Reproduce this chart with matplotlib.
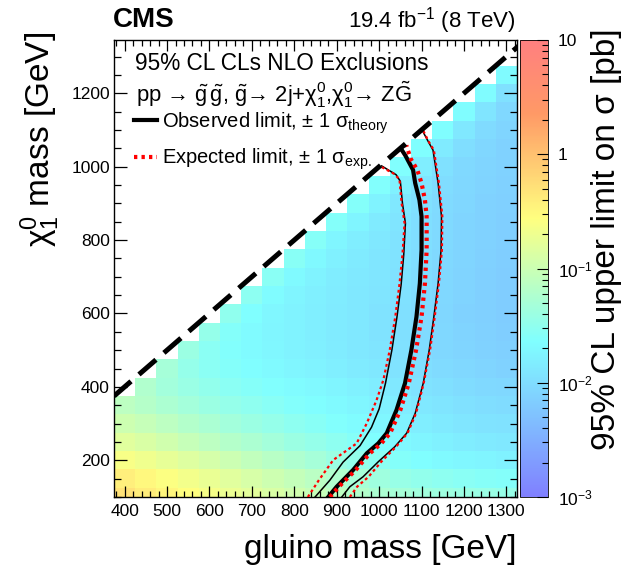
import numpy as np
import matplotlib
matplotlib.use('Agg')
import matplotlib.pyplot as plt
from matplotlib.colors import LinearSegmentedColormap, LogNorm
from matplotlib.ticker import MultipleLocator, LogLocator, NullFormatter
from matplotlib.lines import Line2D

plt.rcParams['font.family'] = ['Liberation Sans', 'DejaVu Sans']
plt.rcParams['mathtext.fontset'] = 'custom'
plt.rcParams['mathtext.rm'] = 'Liberation Sans'
plt.rcParams['mathtext.it'] = 'Liberation Sans:italic'
plt.rcParams['mathtext.bf'] = 'Liberation Sans:bold'
plt.rcParams['mathtext.sf'] = 'Liberation Sans'

# ---------------- data ----------------
gluino_mass = [400, 450, 500, 550, 600, 650, 700, 750, 800, 850,
               900, 950, 1000, 1050, 1100, 1150, 1200, 1250, 1300]
chi_mass = [100, 150, 200, 250, 300, 350, 400, 450, 500, 550, 600, 650,
            700, 750, 800, 850, 900, 950, 1000, 1050, 1100, 1150, 1200, 1250]
# log10 of the 95% CL upper limit [pb]; each row ends at gluino mass 1300
log_limit_rows = [
    [-0.30, -0.40, -0.48, -0.56, -0.64, -0.72, -0.80, -0.88, -0.96, -1.04, -1.12, -1.20, -1.26, -1.31, -1.35, -1.38, -1.40, -1.42, -1.44],
    [-0.42, -0.50, -0.58, -0.66, -0.74, -0.82, -0.90, -0.98, -1.06, -1.14, -1.22, -1.30, -1.37, -1.43, -1.48, -1.52, -1.55, -1.58, -1.60],
    [-0.62, -0.68, -0.76, -0.84, -0.92, -1.00, -1.08, -1.16, -1.24, -1.32, -1.40, -1.47, -1.54, -1.60, -1.65, -1.69, -1.72, -1.75, -1.78],
    [-0.82, -0.88, -0.96, -1.04, -1.12, -1.19, -1.26, -1.33, -1.40, -1.46, -1.52, -1.58, -1.64, -1.70, -1.75, -1.79, -1.83, -1.86, -1.88],
    [-0.98, -1.04, -1.12, -1.20, -1.27, -1.34, -1.40, -1.46, -1.52, -1.57, -1.62, -1.67, -1.72, -1.77, -1.82, -1.86, -1.90, -1.93, -1.95],
    [-1.12, -1.18, -1.26, -1.33, -1.40, -1.46, -1.51, -1.56, -1.61, -1.65, -1.69, -1.73, -1.78, -1.83, -1.88, -1.92, -1.96, -1.99, -2.01],
    [-1.22, -1.34, -1.42, -1.48, -1.54, -1.59, -1.63, -1.67, -1.71, -1.75, -1.79, -1.83, -1.88, -1.93, -1.97, -2.01, -2.04, -2.06],
    [-1.32, -1.46, -1.54, -1.60, -1.65, -1.69, -1.73, -1.77, -1.81, -1.85, -1.89, -1.93, -1.98, -2.02, -2.06, -2.09, -2.11],
    [-1.40, -1.54, -1.62, -1.68, -1.72, -1.76, -1.80, -1.84, -1.88, -1.92, -1.96, -2.01, -2.05, -2.09, -2.12, -2.14],
    [-1.46, -1.60, -1.68, -1.73, -1.77, -1.81, -1.85, -1.89, -1.93, -1.97, -2.02, -2.06, -2.10, -2.13, -2.16],
    [-1.50, -1.64, -1.72, -1.77, -1.81, -1.85, -1.89, -1.93, -1.97, -2.02, -2.07, -2.11, -2.14, -2.17],
    [-1.53, -1.67, -1.75, -1.80, -1.84, -1.88, -1.92, -1.96, -2.01, -2.06, -2.10, -2.14, -2.17],
    [-1.55, -1.69, -1.77, -1.83, -1.87, -1.91, -1.95, -2.00, -2.05, -2.10, -2.14, -2.17],
    [-1.57, -1.71, -1.79, -1.85, -1.90, -1.94, -1.99, -2.04, -2.09, -2.13, -2.16],
    [-1.58, -1.73, -1.82, -1.88, -1.93, -1.98, -2.03, -2.08, -2.12, -2.15],
    [-1.60, -1.75, -1.85, -1.92, -1.98, -2.03, -2.08, -2.12, -2.15],
    [-1.60, -1.77, -1.88, -1.96, -2.02, -2.07, -2.11, -2.14],
    [-1.62, -1.79, -1.92, -2.00, -2.06, -2.10, -2.13],
    [-1.63, -1.82, -1.96, -2.04, -2.09, -2.12],
    [-1.64, -1.85, -1.99, -2.07, -2.11],
    [-1.65, -1.88, -2.02, -2.09],
    [-1.66, -1.92, -2.05],
    [-1.67, -1.96],
    [-1.68],
]

kin_limit = [375, 1345]

obs_x = [880, 900, 939, 971, 998, 1018, 1041, 1061, 1076, 1088, 1096, 1100, 1100, 1095, 1085, 1080, 1062, 1052]
obs_y = [100, 128, 174, 219, 246, 274, 337, 410, 500, 591, 682, 773, 864, 909, 955, 991, 1030, 1048]
obs_m_x = [849, 884, 915, 955, 982, 1000, 1015, 1030, 1042, 1052, 1058, 1062, 1055, 1050, 1040, 1006]
obs_m_y = [100, 146, 195, 240, 290, 340, 410, 500, 590, 680, 760, 846, 900, 960, 978, 1002]
obs_p_x = [912, 931, 962, 998, 1037, 1065, 1085, 1104, 1118, 1129, 1139, 1146, 1147, 1139, 1127, 1115, 1102]
obs_p_y = [100, 128, 155, 196, 237, 274, 328, 410, 500, 591, 682, 773, 864, 955, 1045, 1070, 1098]

exp_x = [884, 905, 945, 978, 1005, 1026, 1050, 1070, 1087, 1100, 1108, 1112, 1112, 1108, 1100, 1090, 1075, 1064]
exp_y = [100, 128, 174, 219, 246, 274, 337, 410, 500, 591, 682, 773, 864, 909, 955, 991, 1020, 1058]
exp_m_x = [832, 858, 892, 947, 971, 994, 1010, 1025, 1038, 1048, 1055, 1060, 1053, 1048, 1036, 1004]
exp_m_y = [100, 146, 201, 246, 301, 364, 419, 500, 590, 680, 760, 846, 900, 965, 980, 1000]
exp_p_x = [931, 948, 975, 1005, 1040, 1067, 1087, 1105, 1120, 1131, 1141, 1148, 1149, 1141, 1129, 1116, 1104]
exp_p_y = [100, 128, 155, 196, 237, 274, 328, 410, 500, 591, 682, 773, 864, 955, 1045, 1070, 1098]

cbar_ticks = [1e-3, 1e-2, 1e-1, 1, 10]
cbar_labels = ['10$^{-3}$', '10$^{-2}$', '10$^{-1}$', '1', '10']
x_ticks = [400, 500, 600, 700, 800, 900, 1000, 1100, 1200, 1300]
y_ticks = [200, 400, 600, 800, 1000, 1200]

# ---------------- build grid ----------------
ncol = len(gluino_mass)
Z = np.full((len(chi_mass), ncol), np.nan)
for i, row in enumerate(log_limit_rows):
    Z[i, ncol - len(row):] = row
Z = np.ma.masked_invalid(10.0 ** Z)

gx = np.array(gluino_mass, float)
gy = np.array(chi_mass, float)
x_edges = np.concatenate([gx - 25, [gx[-1] + 25]])
y_edges = np.concatenate([gy - 25, [gy[-1] + 25]])

stops = [0.00, 0.34, 0.61, 0.84, 1.00]
cols = [(0.5, 0.5, 1.0), (0.5, 1.0, 1.0), (1.0, 1.0, 0.5), (1.0, 0.6, 0.4), (1.0, 0.5, 0.5)]
cmap = LinearSegmentedColormap.from_list('susy', list(zip(stops, cols)), N=512)
cmap.set_bad('white')

# ---------------- figure ----------------
W, H = 627, 566
fig = plt.figure(figsize=(W / 100, H / 100), dpi=100)
ax = fig.add_axes([114 / W, 1 - 497 / H, (517 - 114) / W, (497 - 40) / H])
cax = fig.add_axes([520 / W, 1 - 497 / H, 28 / W, (497 - 40) / H])

mesh = ax.pcolormesh(x_edges, y_edges, Z, cmap=cmap, norm=LogNorm(1e-3, 10), zorder=1)

ax.plot(obs_m_x, obs_m_y, color='black', lw=1.1, zorder=3)
ax.plot(obs_p_x, obs_p_y, color='black', lw=1.1, zorder=3)
ax.plot(exp_m_x, exp_m_y, color='red', lw=1.6, ls=(0, (1.3, 1.3)), zorder=3)
ax.plot(exp_p_x, exp_p_y, color='red', lw=1.6, ls=(0, (1.3, 1.3)), zorder=3)
ax.plot(obs_x, obs_y, color='black', lw=3.0, zorder=4)
ax.plot(exp_x, exp_y, color='red', lw=3.0, ls=(0, (0.8, 1.0)), zorder=4)

ax.plot(kin_limit, kin_limit, color='black', lw=3.6, ls=(0, (4.5, 2.1)), zorder=5)

ax.set_xlim(375, 1325)
ax.set_ylim(100, 1345)
ax.set_xticks(x_ticks)
ax.set_yticks(y_ticks)
ax.xaxis.set_minor_locator(MultipleLocator(20))
ax.yaxis.set_minor_locator(MultipleLocator(50))
ax.tick_params(which='both', direction='in', top=True, right=True, labelsize=12.5, colors='black')
ax.tick_params(axis='x', which='major', length=8, width=0.9, pad=5)
ax.tick_params(axis='x', which='minor', length=4.3, width=0.9)
ax.tick_params(axis='y', which='major', length=9.5, width=0.9, pad=3)
ax.tick_params(axis='y', which='minor', length=5, width=0.9)
for s in ax.spines.values():
    s.set_linewidth(1.0)

cb = fig.colorbar(mesh, cax=cax)
cb.outline.set_linewidth(0.6)
cax.yaxis.set_ticks_position('right')
cax.set_yticks(cbar_ticks, labels=cbar_labels)
cax.yaxis.set_minor_locator(LogLocator(base=10, subs=np.arange(2, 10)))
cax.yaxis.set_minor_formatter(NullFormatter())
cax.tick_params(which='both', direction='in', labelsize=12.5, width=0.8)
cax.tick_params(which='major', length=8, pad=7)
cax.tick_params(which='minor', length=4)

# texts
fig.text(113 / W, 1 - 27 / H, 'CMS', fontsize=20, fontweight='bold', va='baseline', ha='left')
fig.text(516 / W, 1 - 28 / H, '19.4 fb$^{-1}$ (8 TeV)', fontsize=16, va='baseline', ha='right')
fig.text(517 / W, 1 - 558 / H, 'gluino mass [GeV]', fontsize=24, va='baseline', ha='right')
fig.text(40 / W, 1 - 32 / H, r'$\mathrm{\chi}^{0}_{1}$ mass [GeV]', fontsize=24, rotation=90,
         va='top', ha='center')
fig.text(606 / W, 1 - 28 / H, r'95% CL upper limit on σ [pb]', fontsize=24, rotation=90,
         va='top', ha='center')

fig.text(135 / W, 1 - 70 / H, '95% CL CLs NLO Exclusions', fontsize=16.3, va='baseline')
fig.text(136 / W, 1 - 102 / H,
         r'pp → $\tilde{\mathrm{g}}\,\tilde{\mathrm{g}}$, $\tilde{\mathrm{g}}$→ 2j+$\mathrm{\chi}^{0}_{1}$,$\mathrm{\chi}^{0}_{1}$→ Z$\tilde{\mathrm{G}}$',
         fontsize=15.8, va='baseline')

handles = [Line2D([], [], color='black', lw=3.0),
           Line2D([], [], color='red', lw=3.0, ls=(0, (0.8, 1.0)))]
labels = [r'Observed limit, ± 1 $\mathrm{\sigma}_{\mathrm{theory}}$',
          r'Expected limit, ± 1 $\mathrm{\sigma}_{\mathrm{exp.}}$']
ax.legend(handles, labels, loc='upper left', bbox_to_anchor=(20 / 403, 1 - 70 / 457),
          frameon=False, fontsize=14.5, handlelength=1.15, handletextpad=0.25,
          labelspacing=0.55, borderpad=0, borderaxespad=0)

fig.savefig('out.png', dpi=100)
